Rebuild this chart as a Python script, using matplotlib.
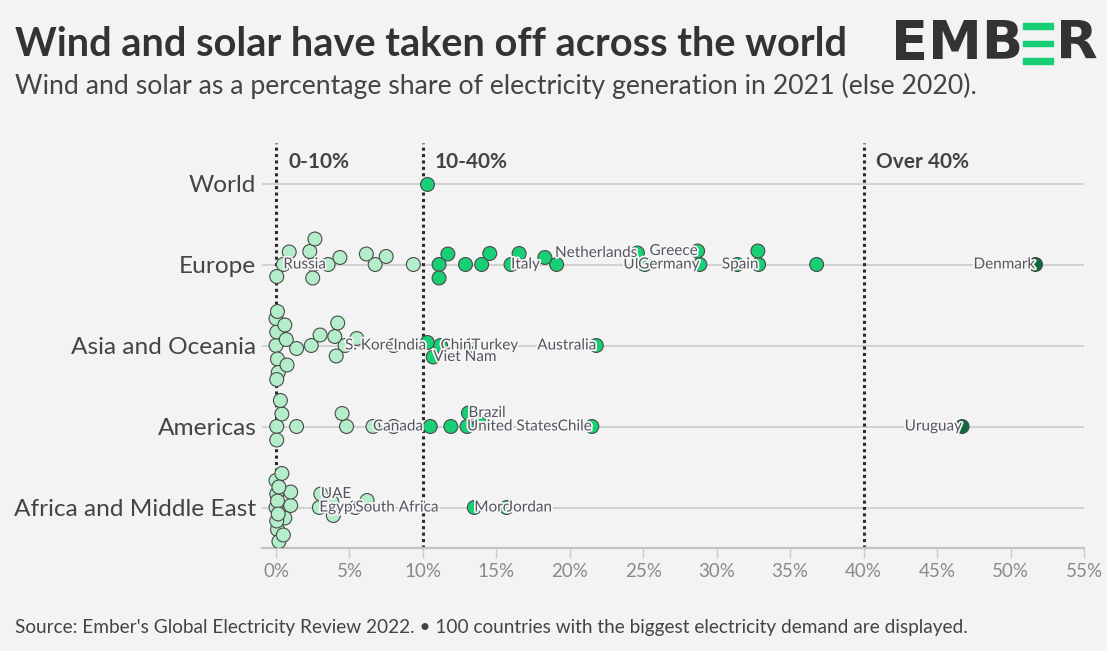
import numpy as np
import matplotlib.pyplot as plt
import matplotlib.patheffects as pe
from matplotlib.patches import Rectangle

plt.rcParams['font.family'] = ['Lato', 'DejaVu Sans']

regions = ["World", "Europe", "Asia and Oceania", "Americas", "Africa and Middle East"]

# wind + solar share of generation (%), in swarm placement order;
# matching label lists ("" = no label)
world_vals = [10.3]
world_labels = [""]

europe_vals = [0.5, 0.9, 0.05, 2.55, 2.3, 2.5, 2.65, 3.55, 4.35, 6.75, 6.15, 7.5, 9.35,
               16.0, 11.1, 11.7, 11.1, 12.9, 14.0, 14.55, 16.55, 19.1, 18.3,
               25.1, 24.6, 28.85, 28.7, 32.85, 32.8, 31.4, 36.8, 51.7]
europe_labels = ["Russia", "", "", "", "", "", "", "", "", "", "", "", "",
                 "Italy", "", "", "", "", "", "", "", "", "",
                 "UK", "Netherlands", "Germany", "Greece", "Spain", "", "", "", "Denmark"]

asia_vals = [4.7, 8.0, 11.2, 10.3, 10.7, 13.3, 21.8,
             0.0, 0.05, 0.1, 0.0, 0.15, 0.05, 0.1, 0.7, 1.4, 0.6, 0.75, 2.4,
             3.0, 4.0, 4.1, 5.5, 4.2]
asia_labels = ["S. Korea", "India", "China", "", "Viet Nam", "Turkey", "Australia",
               "", "", "", "", "", "", "", "", "", "", "", "",
               "", "", "", "", ""]

americas_vals = [6.6, 13.0, 13.1, 21.5, 46.7, 13.9, 11.9, 10.5, 8.0, 4.8, 4.5,
                 1.4, 0.05, 0.4, 0.05, 0.3]
americas_labels = ["Canada", "United States", "Brazil", "Chile", "Uruguay",
                   "", "", "", "", "", "", "", "", "", "", ""]

africa_vals = [2.95, 3.05, 5.4, 6.2, 3.8, 3.9, 13.5, 15.7,
               0.0, 0.05, 0.6, 0.1, 0.0, 1.0, 0.2, 0.05, 1.0, 0.4, 0.1, 0.2, 0.15, 0.5]
africa_labels = ["Egypt", "UAE", "South Africa", "", "", "", "Morocco", "Jordan",
                 "", "", "", "", "", "", "", "", "", "", "", "", "", ""]

all_vals = [world_vals, europe_vals, asia_vals, americas_vals, africa_vals]
all_labels = [world_labels, europe_labels, asia_labels, americas_labels, africa_labels]

band_edges = [0, 10, 40]
band_names = ["0-10%", "10-40%", "Over 40%"]
xticks = list(range(0, 60, 5))

BG = "#f3f3f3"
LIGHT = "#b4edc9"
MID = "#17cf74"
DARK = "#0b6b3a"


def colour(v):
    if v < 10:
        return LIGHT
    if v < 40:
        return MID
    return DARK


def swarm(xs, d, cap):
    """Beeswarm offsets in px (up positive), squeezed into +-cap."""
    grid = np.arange(-cap, cap + 0.01, 0.5)
    grid = grid[np.lexsort((-grid, np.abs(grid)))]
    px, py = [], []
    offs = np.zeros(len(xs))
    for i, x in enumerate(xs):
        if px:
            dx = x - np.array(px)
            dy = grid[:, None] - np.array(py)[None, :]
            mind = np.sqrt(dx[None, :] ** 2 + dy ** 2).min(axis=1)
            ok = np.where(mind >= d)[0]
            y = grid[ok[0]] if len(ok) else grid[np.argmax(mind)]
        else:
            y = 0.0
        offs[i] = y
        px.append(x)
        py.append(y)
    return offs


W, H = 1107, 651
fig = plt.figure(figsize=(W / 100, H / 100), dpi=100)
fig.patch.set_facecolor(BG)
ax = fig.add_axes([262 / W, (H - 548) / H, (1084 - 262) / W, (548 - 143) / H])
ax.set_facecolor(BG)
ax.set_xlim(-0.953, 55)
ax.set_ylim(4.5, -0.5)

px_x = ax.get_position().width * W / (55 + 0.953)
px_y = ax.get_position().height * H / 5.0

for r in range(len(regions)):
    ax.axhline(r, color="#cfcfcf", lw=1.3, zorder=1)

for e in band_edges:
    ax.axvline(e, color="#2b2b2b", lw=2.2, ls=(0, (1, 1.1)), zorder=2)
for e, name in zip(band_edges, band_names):
    ax.text(e + 12 / px_x, -0.26, name, fontsize=15, fontweight="bold",
            color="#444444", va="center", ha="left")

halo = [pe.withStroke(linewidth=2.5, foreground="#f7f7f7")]
for r, (vals, labels) in enumerate(zip(all_vals, all_labels)):
    vals = np.array(vals, dtype=float)
    offs = swarm(vals * px_x, 13.5, 34)
    ys = r - offs / px_y
    ax.scatter(vals, ys, s=100, c=[colour(v) for v in vals],
               edgecolors="#4a4a4a", linewidths=0.8, zorder=3)
    for v, y, lab in zip(vals, ys, labels):
        if lab:
            ax.text(v, y, lab, fontsize=11, color="#555560",
                    ha="left" if v < 20 else "right", va="center",
                    path_effects=halo, zorder=4)

ax.set_yticks(range(len(regions)))
ax.set_yticklabels(regions, fontsize=17.6, color="#444444")
ax.tick_params(axis="y", length=0, pad=4)
ax.set_xticks(xticks)
ax.set_xticklabels([f"{t}%" for t in xticks], fontsize=13.5, color="#8a8a8a")
ax.tick_params(axis="x", length=7, width=1, color="#cccccc", pad=4)
for s in ["top", "right", "left"]:
    ax.spines[s].set_visible(False)
ax.spines["bottom"].set_color("#c4c4c4")
ax.spines["bottom"].set_linewidth(1.6)

fig.text(15 / W, 1 - 45 / H, "Wind and solar have taken off across the world",
         fontsize=28.6, fontweight="bold", color="#333333", va="center")
fig.text(15 / W, 1 - 86 / H,
         "Wind and solar as a percentage share of electricity generation in 2021 (else 2020).",
         fontsize=19.2, color="#444444", va="center")
fig.text(15 / W, 1 - 627 / H,
         "Source: Ember's Global Electricity Review 2022. \u2022 100 countries with the biggest electricity demand are displayed.",
         fontsize=13.7, color="#444444", va="center")

# logo
fig.text(891 / W, 1 - 44 / H, "EMB", fontsize=39, fontweight="bold",
         color="#333333", va="center", ha="left", family="DejaVu Sans")
fig.text(1098 / W, 1 - 44 / H, "R", fontsize=39, fontweight="bold",
         color="#333333", va="center", ha="right", family="DejaVu Sans")
for y0 in (23, 40.5, 58):
    fig.patches.append(Rectangle((1023 / W, 1 - (y0 + 5.5) / H), 30 / W, 5.5 / H,
                                 transform=fig.transFigure, color="#17cf74"))

fig.savefig("out.png", dpi=100, facecolor=BG)
